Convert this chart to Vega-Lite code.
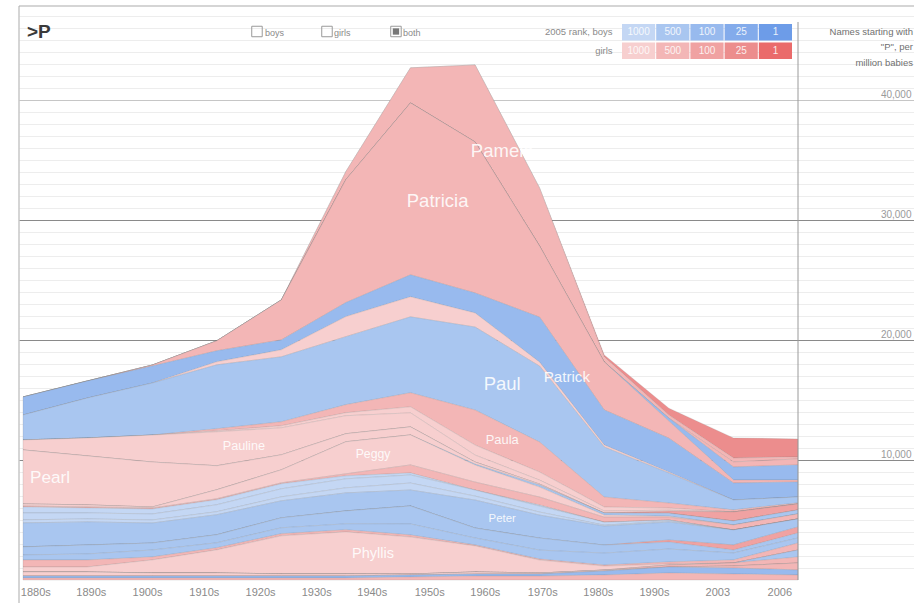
{
"$schema":"https://vega.github.io/schema/vega-lite/v6.json",
"width":895,"height":574,
"autosize":{"type":"none"},
"padding":{"left":19,"top":6,"right":0,"bottom":23},
"config":{"view":{"stroke":null},"font":"Liberation Sans"},
"datasets":{
"names":[
{"name":"Paige","sex":"girls","rank":"25"},{"name":"Pamela","sex":"girls","rank":"500"},{"name":"Paris","sex":"girls","rank":"500"},{"name":"Parker","sex":"boys","rank":"100"},{"name":"Patricia","sex":"girls","rank":"500"},{"name":"Patrick","sex":"boys","rank":"100"},{"name":"Patty","sex":"girls","rank":"1000"},{"name":"Paul","sex":"boys","rank":"500"},{"name":"Paula","sex":"girls","rank":"500"},{"name":"Paulette","sex":"girls","rank":"1000"},{"name":"Pauline","sex":"girls","rank":"1000"},{"name":"Payton","sex":"girls","rank":"100"},{"name":"Pearl","sex":"girls","rank":"1000"},{"name":"Pedro","sex":"boys","rank":"500"},{"name":"Peggy","sex":"girls","rank":"1000"},{"name":"Penelope","sex":"girls","rank":"500"},{"name":"Percy","sex":"boys","rank":"1000"},{"name":"Perry","sex":"boys","rank":"1000"},{"name":"Pete","sex":"boys","rank":"1000"},{"name":"Peter","sex":"boys","rank":"500"},{"name":"Peyton","sex":"girls","rank":"100"},{"name":"Philip","sex":"boys","rank":"500"},{"name":"Phillip","sex":"boys","rank":"500"},{"name":"Phoebe","sex":"girls","rank":"500"},{"name":"Phyllis","sex":"girls","rank":"1000"},{"name":"Pierce","sex":"boys","rank":"500"},{"name":"Piper","sex":"girls","rank":"500"},{"name":"Polly","sex":"girls","rank":"1000"},{"name":"Presley","sex":"girls","rank":"500"},{"name":"Preston","sex":"boys","rank":"100"},{"name":"Priscilla","sex":"girls","rank":"500"}
],
"counts":[
{"name":"Paige","decade":1880,"v":0},{"name":"Paige","decade":1890,"v":0},{"name":"Paige","decade":1900,"v":0},{"name":"Paige","decade":1910,"v":0},{"name":"Paige","decade":1920,"v":0},{"name":"Paige","decade":1930,"v":0},{"name":"Paige","decade":1940,"v":0},{"name":"Paige","decade":1950,"v":0},{"name":"Paige","decade":1960,"v":0},{"name":"Paige","decade":1970,"v":170},{"name":"Paige","decade":1980,"v":580},{"name":"Paige","decade":1990,"v":1670},{"name":"Paige","decade":2000,"v":1500},
{"name":"Pamela","decade":1880,"v":0},{"name":"Pamela","decade":1890,"v":0},{"name":"Pamela","decade":1900,"v":0},{"name":"Pamela","decade":1910,"v":0},{"name":"Pamela","decade":1920,"v":0},{"name":"Pamela","decade":1930,"v":670},{"name":"Pamela","decade":1940,"v":2920},{"name":"Pamela","decade":1950,"v":6420},{"name":"Pamela","decade":1960,"v":4830},{"name":"Pamela","decade":1970,"v":420},{"name":"Pamela","decade":1980,"v":250},{"name":"Pamela","decade":1990,"v":330},{"name":"Pamela","decade":2000,"v":170},
{"name":"Paris","decade":1880,"v":0},{"name":"Paris","decade":1890,"v":0},{"name":"Paris","decade":1900,"v":0},{"name":"Paris","decade":1910,"v":0},{"name":"Paris","decade":1920,"v":0},{"name":"Paris","decade":1930,"v":0},{"name":"Paris","decade":1940,"v":0},{"name":"Paris","decade":1950,"v":0},{"name":"Paris","decade":1960,"v":0},{"name":"Paris","decade":1970,"v":0},{"name":"Paris","decade":1980,"v":0},{"name":"Paris","decade":1990,"v":420},{"name":"Paris","decade":2000,"v":500},
{"name":"Parker","decade":1880,"v":0},{"name":"Parker","decade":1890,"v":0},{"name":"Parker","decade":1900,"v":0},{"name":"Parker","decade":1910,"v":0},{"name":"Parker","decade":1920,"v":0},{"name":"Parker","decade":1930,"v":0},{"name":"Parker","decade":1940,"v":0},{"name":"Parker","decade":1950,"v":0},{"name":"Parker","decade":1960,"v":0},{"name":"Parker","decade":1970,"v":0},{"name":"Parker","decade":1980,"v":250},{"name":"Parker","decade":1990,"v":1080},{"name":"Parker","decade":2000,"v":1250},
{"name":"Patricia","decade":1880,"v":0},{"name":"Patricia","decade":1890,"v":0},{"name":"Patricia","decade":1900,"v":80},{"name":"Patricia","decade":1910,"v":830},{"name":"Patricia","decade":1920,"v":3330},{"name":"Patricia","decade":1930,"v":10250},{"name":"Patricia","decade":1940,"v":14330},{"name":"Patricia","decade":1950,"v":12580},{"name":"Patricia","decade":1960,"v":5920},{"name":"Patricia","decade":1970,"v":4000},{"name":"Patricia","decade":1980,"v":1420},{"name":"Patricia","decade":1990,"v":250},{"name":"Patricia","decade":2000,"v":170},
{"name":"Patrick","decade":1880,"v":1500},{"name":"Patrick","decade":1890,"v":1420},{"name":"Patrick","decade":1900,"v":1420},{"name":"Patrick","decade":1910,"v":920},{"name":"Patrick","decade":1920,"v":830},{"name":"Patrick","decade":1930,"v":1170},{"name":"Patrick","decade":1940,"v":1830},{"name":"Patrick","decade":1950,"v":1670},{"name":"Patrick","decade":1960,"v":3750},{"name":"Patrick","decade":1970,"v":2920},{"name":"Patrick","decade":1980,"v":2830},{"name":"Patrick","decade":1990,"v":1420},{"name":"Patrick","decade":2000,"v":1250},
{"name":"Patty","decade":1880,"v":0},{"name":"Patty","decade":1890,"v":0},{"name":"Patty","decade":1900,"v":0},{"name":"Patty","decade":1910,"v":250},{"name":"Patty","decade":1920,"v":580},{"name":"Patty","decade":1930,"v":1670},{"name":"Patty","decade":1940,"v":1670},{"name":"Patty","decade":1950,"v":1170},{"name":"Patty","decade":1960,"v":330},{"name":"Patty","decade":1970,"v":170},{"name":"Patty","decade":1980,"v":80},{"name":"Patty","decade":1990,"v":0},{"name":"Patty","decade":2000,"v":0},
{"name":"Paul","decade":1880,"v":2080},{"name":"Paul","decade":1890,"v":3330},{"name":"Paul","decade":1900,"v":4330},{"name":"Paul","decade":1910,"v":5330},{"name":"Paul","decade":1920,"v":5420},{"name":"Paul","decade":1930,"v":5670},{"name":"Paul","decade":1940,"v":6330},{"name":"Paul","decade":1950,"v":6920},{"name":"Paul","decade":1960,"v":6330},{"name":"Paul","decade":1970,"v":4170},{"name":"Paul","decade":1980,"v":2500},{"name":"Paul","decade":1990,"v":830},{"name":"Paul","decade":2000,"v":500},
{"name":"Paula","decade":1880,"v":0},{"name":"Paula","decade":1890,"v":0},{"name":"Paula","decade":1900,"v":0},{"name":"Paula","decade":1910,"v":170},{"name":"Paula","decade":1920,"v":330},{"name":"Paula","decade":1930,"v":670},{"name":"Paula","decade":1940,"v":1170},{"name":"Paula","decade":1950,"v":2920},{"name":"Paula","decade":1960,"v":2500},{"name":"Paula","decade":1970,"v":830},{"name":"Paula","decade":1980,"v":420},{"name":"Paula","decade":1990,"v":170},{"name":"Paula","decade":2000,"v":80},
{"name":"Paulette","decade":1880,"v":0},{"name":"Paulette","decade":1890,"v":0},{"name":"Paulette","decade":1900,"v":0},{"name":"Paulette","decade":1910,"v":80},{"name":"Paulette","decade":1920,"v":170},{"name":"Paulette","decade":1930,"v":250},{"name":"Paulette","decade":1940,"v":500},{"name":"Paulette","decade":1950,"v":830},{"name":"Paulette","decade":1960,"v":670},{"name":"Paulette","decade":1970,"v":330},{"name":"Paulette","decade":1980,"v":170},{"name":"Paulette","decade":1990,"v":0},{"name":"Paulette","decade":2000,"v":0},
{"name":"Pauline","decade":1880,"v":830},{"name":"Pauline","decade":1890,"v":1500},{"name":"Pauline","decade":1900,"v":2250},{"name":"Pauline","decade":1910,"v":2830},{"name":"Pauline","decade":1920,"v":2250},{"name":"Pauline","decade":1930,"v":1500},{"name":"Pauline","decade":1940,"v":1170},{"name":"Pauline","decade":1950,"v":580},{"name":"Pauline","decade":1960,"v":330},{"name":"Pauline","decade":1970,"v":170},{"name":"Pauline","decade":1980,"v":80},{"name":"Pauline","decade":1990,"v":0},{"name":"Pauline","decade":2000,"v":0},
{"name":"Payton","decade":1880,"v":0},{"name":"Payton","decade":1890,"v":0},{"name":"Payton","decade":1900,"v":0},{"name":"Payton","decade":1910,"v":0},{"name":"Payton","decade":1920,"v":0},{"name":"Payton","decade":1930,"v":0},{"name":"Payton","decade":1940,"v":0},{"name":"Payton","decade":1950,"v":0},{"name":"Payton","decade":1960,"v":0},{"name":"Payton","decade":1970,"v":0},{"name":"Payton","decade":1980,"v":170},{"name":"Payton","decade":1990,"v":750},{"name":"Payton","decade":2000,"v":500},
{"name":"Pearl","decade":1880,"v":4500},{"name":"Pearl","decade":1890,"v":4080},{"name":"Pearl","decade":1900,"v":3750},{"name":"Pearl","decade":1910,"v":2000},{"name":"Pearl","decade":1920,"v":1250},{"name":"Pearl","decade":1930,"v":670},{"name":"Pearl","decade":1940,"v":670},{"name":"Pearl","decade":1950,"v":170},{"name":"Pearl","decade":1960,"v":80},{"name":"Pearl","decade":1970,"v":0},{"name":"Pearl","decade":1980,"v":0},{"name":"Pearl","decade":1990,"v":0},{"name":"Pearl","decade":2000,"v":0},
{"name":"Pedro","decade":1880,"v":0},{"name":"Pedro","decade":1890,"v":0},{"name":"Pedro","decade":1900,"v":0},{"name":"Pedro","decade":1910,"v":0},{"name":"Pedro","decade":1920,"v":0},{"name":"Pedro","decade":1930,"v":0},{"name":"Pedro","decade":1940,"v":0},{"name":"Pedro","decade":1950,"v":80},{"name":"Pedro","decade":1960,"v":170},{"name":"Pedro","decade":1970,"v":170},{"name":"Pedro","decade":1980,"v":250},{"name":"Pedro","decade":1990,"v":330},{"name":"Pedro","decade":2000,"v":330},
{"name":"Peggy","decade":1880,"v":170},{"name":"Peggy","decade":1890,"v":170},{"name":"Peggy","decade":1900,"v":80},{"name":"Peggy","decade":1910,"v":750},{"name":"Peggy","decade":1920,"v":1080},{"name":"Peggy","decade":1930,"v":2670},{"name":"Peggy","decade":1940,"v":2500},{"name":"Peggy","decade":1950,"v":1420},{"name":"Peggy","decade":1960,"v":830},{"name":"Peggy","decade":1970,"v":170},{"name":"Peggy","decade":1980,"v":80},{"name":"Peggy","decade":1990,"v":0},{"name":"Peggy","decade":2000,"v":0},
{"name":"Penelope","decade":1880,"v":80},{"name":"Penelope","decade":1890,"v":80},{"name":"Penelope","decade":1900,"v":80},{"name":"Penelope","decade":1910,"v":80},{"name":"Penelope","decade":1920,"v":80},{"name":"Penelope","decade":1930,"v":170},{"name":"Penelope","decade":1940,"v":670},{"name":"Penelope","decade":1950,"v":670},{"name":"Penelope","decade":1960,"v":670},{"name":"Penelope","decade":1970,"v":420},{"name":"Penelope","decade":1980,"v":250},{"name":"Penelope","decade":1990,"v":420},{"name":"Penelope","decade":2000,"v":420},
{"name":"Percy","decade":1880,"v":500},{"name":"Percy","decade":1890,"v":420},{"name":"Percy","decade":1900,"v":420},{"name":"Percy","decade":1910,"v":420},{"name":"Percy","decade":1920,"v":420},{"name":"Percy","decade":1930,"v":250},{"name":"Percy","decade":1940,"v":170},{"name":"Percy","decade":1950,"v":0},{"name":"Percy","decade":1960,"v":80},{"name":"Percy","decade":1970,"v":0},{"name":"Percy","decade":1980,"v":0},{"name":"Percy","decade":1990,"v":0},{"name":"Percy","decade":2000,"v":0},
{"name":"Perry","decade":1880,"v":580},{"name":"Perry","decade":1890,"v":500},{"name":"Perry","decade":1900,"v":500},{"name":"Perry","decade":1910,"v":580},{"name":"Perry","decade":1920,"v":670},{"name":"Perry","decade":1930,"v":750},{"name":"Perry","decade":1940,"v":670},{"name":"Perry","decade":1950,"v":500},{"name":"Perry","decade":1960,"v":500},{"name":"Perry","decade":1970,"v":250},{"name":"Perry","decade":1980,"v":80},{"name":"Perry","decade":1990,"v":0},{"name":"Perry","decade":2000,"v":0},
{"name":"Pete","decade":1880,"v":250},{"name":"Pete","decade":1890,"v":250},{"name":"Pete","decade":1900,"v":250},{"name":"Pete","decade":1910,"v":250},{"name":"Pete","decade":1920,"v":330},{"name":"Pete","decade":1930,"v":420},{"name":"Pete","decade":1940,"v":580},{"name":"Pete","decade":1950,"v":330},{"name":"Pete","decade":1960,"v":250},{"name":"Pete","decade":1970,"v":80},{"name":"Pete","decade":1980,"v":80},{"name":"Pete","decade":1990,"v":0},{"name":"Pete","decade":2000,"v":0},
{"name":"Peter","decade":1880,"v":2000},{"name":"Peter","decade":1890,"v":1920},{"name":"Peter","decade":1900,"v":1670},{"name":"Peter","decade":1910,"v":1670},{"name":"Peter","decade":1920,"v":1420},{"name":"Peter","decade":1930,"v":1500},{"name":"Peter","decade":1940,"v":1330},{"name":"Peter","decade":1950,"v":2330},{"name":"Peter","decade":1960,"v":1920},{"name":"Peter","decade":1970,"v":1580},{"name":"Peter","decade":1980,"v":1500},{"name":"Peter","decade":1990,"v":1250},{"name":"Peter","decade":2000,"v":670},
{"name":"Peyton","decade":1880,"v":0},{"name":"Peyton","decade":1890,"v":0},{"name":"Peyton","decade":1900,"v":0},{"name":"Peyton","decade":1910,"v":0},{"name":"Peyton","decade":1920,"v":0},{"name":"Peyton","decade":1930,"v":0},{"name":"Peyton","decade":1940,"v":0},{"name":"Peyton","decade":1950,"v":0},{"name":"Peyton","decade":1960,"v":0},{"name":"Peyton","decade":1970,"v":0},{"name":"Peyton","decade":1980,"v":170},{"name":"Peyton","decade":1990,"v":420},{"name":"Peyton","decade":2000,"v":500},
{"name":"Philip","decade":1880,"v":670},{"name":"Philip","decade":1890,"v":750},{"name":"Philip","decade":1900,"v":580},{"name":"Philip","decade":1910,"v":670},{"name":"Philip","decade":1920,"v":830},{"name":"Philip","decade":1930,"v":1080},{"name":"Philip","decade":1940,"v":1500},{"name":"Philip","decade":1950,"v":830},{"name":"Philip","decade":1960,"v":1000},{"name":"Philip","decade":1970,"v":670},{"name":"Philip","decade":1980,"v":580},{"name":"Philip","decade":1990,"v":250},{"name":"Philip","decade":2000,"v":420},
{"name":"Phillip","decade":1880,"v":420},{"name":"Phillip","decade":1890,"v":500},{"name":"Phillip","decade":1900,"v":580},{"name":"Phillip","decade":1910,"v":420},{"name":"Phillip","decade":1920,"v":500},{"name":"Phillip","decade":1930,"v":500},{"name":"Phillip","decade":1940,"v":920},{"name":"Phillip","decade":1950,"v":580},{"name":"Phillip","decade":1960,"v":750},{"name":"Phillip","decade":1970,"v":1000},{"name":"Phillip","decade":1980,"v":1080},{"name":"Phillip","decade":1990,"v":580},{"name":"Phillip","decade":2000,"v":420},
{"name":"Phoebe","decade":1880,"v":580},{"name":"Phoebe","decade":1890,"v":580},{"name":"Phoebe","decade":1900,"v":250},{"name":"Phoebe","decade":1910,"v":170},{"name":"Phoebe","decade":1920,"v":170},{"name":"Phoebe","decade":1930,"v":170},{"name":"Phoebe","decade":1940,"v":170},{"name":"Phoebe","decade":1950,"v":80},{"name":"Phoebe","decade":1960,"v":80},{"name":"Phoebe","decade":1970,"v":80},{"name":"Phoebe","decade":1980,"v":170},{"name":"Phoebe","decade":1990,"v":250},{"name":"Phoebe","decade":2000,"v":580},
{"name":"Phyllis","decade":1880,"v":420},{"name":"Phyllis","decade":1890,"v":420},{"name":"Phyllis","decade":1900,"v":1080},{"name":"Phyllis","decade":1910,"v":1920},{"name":"Phyllis","decade":1920,"v":3170},{"name":"Phyllis","decade":1930,"v":3500},{"name":"Phyllis","decade":1940,"v":3080},{"name":"Phyllis","decade":1950,"v":2170},{"name":"Phyllis","decade":1960,"v":1080},{"name":"Phyllis","decade":1970,"v":330},{"name":"Phyllis","decade":1980,"v":80},{"name":"Phyllis","decade":1990,"v":0},{"name":"Phyllis","decade":2000,"v":0},
{"name":"Pierce","decade":1880,"v":0},{"name":"Pierce","decade":1890,"v":0},{"name":"Pierce","decade":1900,"v":0},{"name":"Pierce","decade":1910,"v":0},{"name":"Pierce","decade":1920,"v":0},{"name":"Pierce","decade":1930,"v":0},{"name":"Pierce","decade":1940,"v":0},{"name":"Pierce","decade":1950,"v":0},{"name":"Pierce","decade":1960,"v":0},{"name":"Pierce","decade":1970,"v":0},{"name":"Pierce","decade":1980,"v":0},{"name":"Pierce","decade":1990,"v":0},{"name":"Pierce","decade":2000,"v":580},
{"name":"Piper","decade":1880,"v":0},{"name":"Piper","decade":1890,"v":0},{"name":"Piper","decade":1900,"v":0},{"name":"Piper","decade":1910,"v":0},{"name":"Piper","decade":1920,"v":0},{"name":"Piper","decade":1930,"v":0},{"name":"Piper","decade":1940,"v":0},{"name":"Piper","decade":1950,"v":0},{"name":"Piper","decade":1960,"v":0},{"name":"Piper","decade":1970,"v":0},{"name":"Piper","decade":1980,"v":170},{"name":"Piper","decade":1990,"v":250},{"name":"Piper","decade":2000,"v":500},
{"name":"Polly","decade":1880,"v":330},{"name":"Polly","decade":1890,"v":330},{"name":"Polly","decade":1900,"v":250},{"name":"Polly","decade":1910,"v":250},{"name":"Polly","decade":1920,"v":170},{"name":"Polly","decade":1930,"v":170},{"name":"Polly","decade":1940,"v":80},{"name":"Polly","decade":1950,"v":170},{"name":"Polly","decade":1960,"v":80},{"name":"Polly","decade":1970,"v":80},{"name":"Polly","decade":1980,"v":0},{"name":"Polly","decade":1990,"v":0},{"name":"Polly","decade":2000,"v":0},
{"name":"Presley","decade":1880,"v":0},{"name":"Presley","decade":1890,"v":0},{"name":"Presley","decade":1900,"v":0},{"name":"Presley","decade":1910,"v":0},{"name":"Presley","decade":1920,"v":0},{"name":"Presley","decade":1930,"v":0},{"name":"Presley","decade":1940,"v":0},{"name":"Presley","decade":1950,"v":0},{"name":"Presley","decade":1960,"v":0},{"name":"Presley","decade":1970,"v":0},{"name":"Presley","decade":1980,"v":0},{"name":"Presley","decade":1990,"v":170},{"name":"Presley","decade":2000,"v":580},
{"name":"Preston","decade":1880,"v":170},{"name":"Preston","decade":1890,"v":170},{"name":"Preston","decade":1900,"v":170},{"name":"Preston","decade":1910,"v":170},{"name":"Preston","decade":1920,"v":170},{"name":"Preston","decade":1930,"v":170},{"name":"Preston","decade":1940,"v":170},{"name":"Preston","decade":1950,"v":170},{"name":"Preston","decade":1960,"v":170},{"name":"Preston","decade":1970,"v":330},{"name":"Preston","decade":1980,"v":500},{"name":"Preston","decade":1990,"v":500},{"name":"Preston","decade":2000,"v":420},
{"name":"Priscilla","decade":1880,"v":170},{"name":"Priscilla","decade":1890,"v":170},{"name":"Priscilla","decade":1900,"v":170},{"name":"Priscilla","decade":1910,"v":170},{"name":"Priscilla","decade":1920,"v":170},{"name":"Priscilla","decade":1930,"v":170},{"name":"Priscilla","decade":1940,"v":250},{"name":"Priscilla","decade":1950,"v":330},{"name":"Priscilla","decade":1960,"v":330},{"name":"Priscilla","decade":1970,"v":420},{"name":"Priscilla","decade":1980,"v":580},{"name":"Priscilla","decade":1990,"v":500},{"name":"Priscilla","decade":2000,"v":420}
],
"legendCells":[
{"sex":"boys","rank":"1000"},{"sex":"boys","rank":"500"},{"sex":"boys","rank":"100"},{"sex":"boys","rank":"25"},{"sex":"boys","rank":"1"},
{"sex":"girls","rank":"1000"},{"sex":"girls","rank":"500"},{"sex":"girls","rank":"100"},{"sex":"girls","rank":"25"},{"sex":"girls","rank":"1"}
],
"legendRows":[{"sex":"boys","rank":"1000","lab":"2005 rank, boys"},{"sex":"girls","rank":"1000","lab":"girls"}]
},
"layer":[
{
"layer":[
{
"data":{"name":"counts"},
"transform":[
{"lookup":"name","from":{"data":{"name":"names"},"key":"name","fields":["sex","rank"]}},
{"calculate":"datum.sex + ' ' + datum.rank","as":"key"},
{"stack":"v","groupby":["decade"],"sort":[{"field":"name","order":"descending"}],"as":["v0","v1"]}
],
"mark":{"type":"area","interpolate":"linear","stroke":"#7a7a7a","strokeWidth":0.5,"strokeOpacity":0.35},
"encoding":{
"x":{"field":"decade","type":"quantitative","scale":{"domain":[1879.381,2017.961],"nice":false,"zero":false},
"axis":{"values":[1881.9,1890.5,1899.2,1908,1916.7,1925.4,1934,1942.9,1951.5,1960.4,1969,1977.7,1987.5,1997.1],"tickCount":100,
"labelExpr":"['1880s','1890s','1900s','1910s','1920s','1930s','1940s','1950s','1960s','1970s','1980s','1990s','2003','2006'][indexof([1881.9,1890.5,1899.2,1908,1916.7,1925.4,1934,1942.9,1951.5,1960.4,1969,1977.7,1987.5,1997.1], datum.value)]",
"domain":false,"ticks":false,"grid":false,"labelPadding":6,"labelFontSize":11,"labelColor":"#8a8a8a","labelFont":"Liberation Sans","labelBaseline":"top","title":null,"labelOverlap":false,"labelFlush":false}},
"y":{"field":"v1","type":"quantitative","stack":null,"scale":{"domain":[0,47833],"nice":false,"zero":true},
"axis":{"orient":"right","values":[1000,2000,3000,4000,5000,6000,7000,8000,9000,10000,11000,12000,13000,14000,15000,16000,17000,18000,19000,20000,21000,22000,23000,24000,25000,26000,27000,28000,29000,30000,31000,32000,33000,34000,35000,36000,37000,38000,39000,40000,41000,42000,43000,44000,45000,46000,47000],"tickCount":100,
"grid":true,"gridColor":{"condition":[{"test":"datum.value === 40000","value":"#c6c6c6"},{"test":"datum.value % 10000 === 0","value":"#8a8a8a"}],"value":"#ededed"},
"domain":false,"ticks":false,"labelExpr":"datum.value % 10000 === 0 ? format(datum.value, ',') : ''",
"labelAlign":"right","labelBaseline":"bottom","labelPadding":-3,"labelFontSize":10,"labelColor":"#9a9a9a","labelFont":"Liberation Sans","title":null,"labelOverlap":false,"labelFlush":false}},
"y2":{"field":"v0"},
"color":{"field":"key","type":"nominal","legend":null,
"scale":{"domain":["boys 1000","boys 500","boys 100","boys 25","boys 1","girls 1000","girls 500","girls 100","girls 25","girls 1"],
"range":["#c4d7f4","#a9c6f0","#98baee","#83abeb","#6d9ce8","#f7cfcf","#f3b6b6","#f0a2a2","#ec8d8d","#ea6b6b"]}},
"detail":{"field":"name"}
}
},
{
"data":{"name":"counts"},
"transform":[
{"stack":"v","groupby":["decade"],"sort":[{"field":"name","order":"descending"}],"as":["v0","v1"]},
{"window":[{"op":"lead","field":"v0","as":"n0"},{"op":"lead","field":"v1","as":"n1"}],"groupby":["name"],"sort":[{"field":"decade","order":"ascending"}]},
{"joinaggregate":[{"op":"max","field":"v","as":"vmax"}],"groupby":["name"]},
{"filter":"datum.v === datum.vmax && datum.v > 2100"},
{"calculate":"datum.decade + 4.2","as":"lx"},
{"calculate":"0.58 * (datum.v0 + datum.v1) / 2 + 0.42 * ((datum.n0 != null ? datum.n0 : datum.v0) + (datum.n1 != null ? datum.n1 : datum.v1)) / 2","as":"mid"}
],
"mark":{"type":"text","align":"center","baseline":"middle","color":"#ffffff","opacity":0.88,"font":"Liberation Sans"},
"encoding":{
"x":{"field":"lx","type":"quantitative"},
"y":{"field":"mid","type":"quantitative"},
"text":{"field":"name"},
"size":{"field":"v","type":"quantitative","scale":{"domain":[2000,5000],"range":[10.5,18.5],"clamp":true},"legend":null}
}
},
{"data":{"values":[{}]},"mark":{"type":"rule","color":"#9a9a9a","strokeWidth":1},"encoding":{"x":{"datum":2000},"y":{"datum":0},"y2":{"datum":46500}}},
{"data":{"values":[{}]},"mark":{"type":"rule","color":"#ababab","strokeWidth":1},"encoding":{"y":{"datum":47833}}},
{"data":{"values":[{}]},"mark":{"type":"rule","color":"#ababab","strokeWidth":1,"clip":false},"encoding":{"x":{"datum":1879.381},"y":{"datum":47833},"y2":{"datum":-1917}}},
{"data":{"values":[{}]},"mark":{"type":"text","text":">P","align":"left","baseline":"middle","fontSize":19,"fontWeight":"bold","color":"#3a3a3a","font":"Liberation Sans"},"encoding":{"x":{"datum":1880.62},"y":{"datum":45667}}},
{"data":{"values":[{}]},"mark":{"type":"point","shape":"square","size":110,"filled":false,"stroke":"#9a9a9a","strokeWidth":1,"opacity":1},"encoding":{"x":{"datum":1916.23},"y":{"datum":45708}}},
{"data":{"values":[{}]},"mark":{"type":"point","shape":"square","size":110,"filled":false,"stroke":"#9a9a9a","strokeWidth":1,"opacity":1},"encoding":{"x":{"datum":1927.07},"y":{"datum":45708}}},
{"data":{"values":[{}]},"mark":{"type":"point","shape":"square","size":110,"filled":false,"stroke":"#9a9a9a","strokeWidth":1,"opacity":1},"encoding":{"x":{"datum":1937.75},"y":{"datum":45708}}},
{"data":{"values":[{}]},"mark":{"type":"point","shape":"square","size":40,"filled":true,"color":"#777777","opacity":1},"encoding":{"x":{"datum":1937.75},"y":{"datum":45708}}},
{"data":{"values":[{}]},"mark":{"type":"text","text":"boys","align":"left","baseline":"middle","fontSize":9,"color":"#8a8a8a"},"encoding":{"x":{"datum":1917.47},"y":{"datum":45620}}},
{"data":{"values":[{}]},"mark":{"type":"text","text":"girls","align":"left","baseline":"middle","fontSize":9,"color":"#8a8a8a"},"encoding":{"x":{"datum":1928.16},"y":{"datum":45620}}},
{"data":{"values":[{}]},"mark":{"type":"text","text":"both","align":"left","baseline":"middle","fontSize":9,"color":"#8a8a8a"},"encoding":{"x":{"datum":1938.84},"y":{"datum":45620}}},
{"data":{"values":[{}]},"mark":{"type":"text","text":["Names starting with","\"P\", per","million babies"],"align":"right","baseline":"middle","fontSize":9.5,"lineHeight":15.5,"color":"#707070"},"encoding":{"x":{"datum":2017.8},"y":{"datum":45667}}}
]
},
{
"layer":[
{
"data":{"name":"legendCells"},
"transform":[{"calculate":"datum.sex + ' ' + datum.rank","as":"key"}],
"mark":{"type":"rect"},
"encoding":{
"x":{"field":"rank","type":"ordinal","sort":["1000","500","100","25","1"],"scale":{"type":"band","range":[603,773],"paddingInner":0.03,"paddingOuter":0},"axis":null},
"y":{"field":"sex","type":"ordinal","sort":["boys","girls"],"scale":{"type":"band","range":[18,53],"paddingInner":0.1,"paddingOuter":0},"axis":null},
"color":{"field":"key","type":"nominal","legend":null}
}
},
{
"data":{"name":"legendCells"},
"mark":{"type":"text","align":"center","baseline":"middle","fontSize":10,"color":"#ffffff","opacity":0.85},
"encoding":{
"x":{"field":"rank","type":"ordinal","sort":["1000","500","100","25","1"],"axis":null},
"y":{"field":"sex","type":"ordinal","sort":["boys","girls"],"axis":null},
"text":{"field":"rank"}
}
},
{
"data":{"name":"legendRows"},
"mark":{"type":"text","align":"right","baseline":"middle","fontSize":9.5,"color":"#8a8a8a","dx":-26},
"encoding":{
"x":{"field":"rank","type":"ordinal","sort":["1000","500","100","25","1"],"axis":null},
"y":{"field":"sex","type":"ordinal","sort":["boys","girls"],"axis":null},
"text":{"field":"lab"}
}
}
]
}
],
"resolve":{"scale":{"x":"independent","y":"independent"}}
}
